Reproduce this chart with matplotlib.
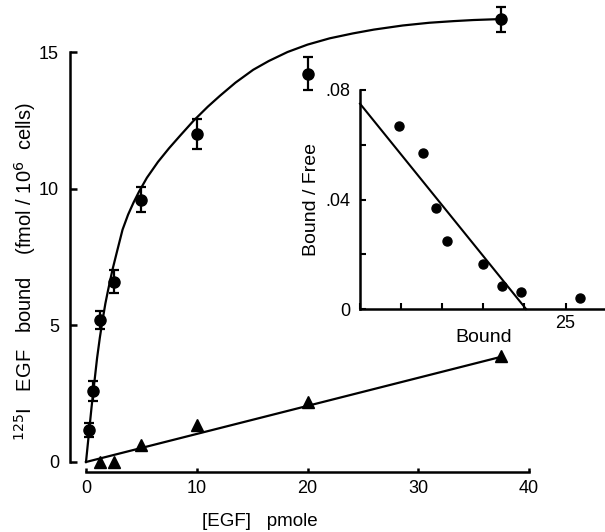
import matplotlib
matplotlib.use("Agg")
import matplotlib.pyplot as plt

plt.rcParams['font.family'] = ['Liberation Sans', 'DejaVu Sans']

# Main plot data: total binding (circles) with error bars
egf_circ = [0.3, 0.6, 1.25, 2.5, 5, 10, 20, 37.5]
bound_circ = [1.17, 2.6, 5.2, 6.6, 9.6, 12.0, 14.2, 16.2]
err_circ = [0.27, 0.36, 0.33, 0.43, 0.47, 0.55, 0.6, 0.45]

# Non-specific binding (triangles)
egf_tri = [1.25, 2.5, 5, 10, 20, 37.5]
bound_tri = [0.0, 0.0, 0.62, 1.35, 2.2, 3.87]
ns_line_x = [0, 37.5]
ns_line_y = [0, 3.85]

# Saturation curve
curve_x = [0, 0.25, 0.5, 0.75, 1.0, 1.25, 1.5, 1.75, 2.0, 2.4, 2.8, 3.3, 3.8,
           4.3, 4.8, 5.5, 6.5, 7.5, 8.5, 9.7, 11.0, 12.1, 13.5, 15.1, 16.5,
           18.2, 20.0, 22.0, 24.1, 26.0, 28.6, 31.0, 33.2, 35.0, 37.1]
curve_y = [0, 1.0, 2.0, 2.9, 3.8, 4.55, 5.2, 5.8, 6.3, 7.05, 7.7, 8.5, 9.05,
           9.5, 9.9, 10.4, 10.98, 11.48, 11.94, 12.48, 13.0, 13.4, 13.88,
           14.35, 14.67, 15.0, 15.27, 15.5, 15.68, 15.82, 15.97, 16.07,
           16.13, 16.17, 16.2]

# Scatchard inset
sc_bound = [4.75, 7.7, 9.3, 10.6, 15.0, 17.3, 19.6, 26.8]
sc_bf = [0.067, 0.057, 0.037, 0.0248, 0.0164, 0.0084, 0.0062, 0.004]
sc_line_x = [0, 20.2]
sc_line_y = [0.075, 0]

W, H = 605, 532
fig = plt.figure(figsize=(W / 100, H / 100), dpi=100)

# ---- main axes ----
x0, x1 = 86, 529          # pixel x of data 0 and 40
y0, y15 = 462, 52         # pixel y of data 0 and 15
ppu_y = (y0 - y15) / 15
ymax = 16.7
top_px = y0 - ymax * ppu_y
ax = fig.add_axes([x0 / W, (H - y0) / H, (x1 - x0) / W, (y0 - top_px) / H])
ax.set_xlim(0, 40)
ax.set_ylim(0, ymax)
ax.patch.set_alpha(0)

ax.plot(curve_x, curve_y, color='black', lw=1.6, clip_on=False,
        solid_joinstyle='round')
ax.plot(ns_line_x, ns_line_y, color='black', lw=1.6, clip_on=False)
ax.errorbar(egf_circ, bound_circ, yerr=err_circ, fmt='o', color='black',
            ms=8, capsize=3.5, elinewidth=1.6, capthick=1.6, clip_on=False)
ax.plot(egf_tri, bound_tri, '^', color='black', ms=8, clip_on=False)

for s in ['top', 'right']:
    ax.spines[s].set_visible(False)
ax.spines['left'].set_position(('outward', 11.5))
ax.spines['bottom'].set_position(('outward', 7.2))
ax.spines['left'].set_bounds(0, 15)
ax.spines['bottom'].set_bounds(0, 40)
ax.spines['left'].set_linewidth(1.8)
ax.spines['bottom'].set_linewidth(1.8)
ax.set_yticks([0, 5, 10, 15])
ax.set_xticks([0, 10, 20, 30, 40])
ax.tick_params(axis='y', direction='in', length=5, width=1.8, labelsize=13, pad=8)
ax.tick_params(axis='x', direction='in', length=3, width=1.8, labelsize=13, pad=6)

fig.text(25 / W, 1 - 272 / H,
         r'$^{125}$I   EGF   bound    (fmol / 10$^{6}$  cells)',
         rotation=90, ha='center', va='center', fontsize=14.5)
fig.text(260 / W, 1 - 521 / H, '[EGF]   pmole', ha='center', va='center',
         fontsize=13.5)

# ---- inset ----
ix0 = 360
ippx = 8.22
iy0, iy8 = 309, 90
ixmax = 30
axi = fig.add_axes([ix0 / W, (H - iy0) / H, ixmax * ippx / W, (iy0 - iy8) / H])
axi.set_xlim(0, ixmax)
axi.set_ylim(0, 0.08)
axi.patch.set_alpha(0)
axi.plot(sc_line_x, sc_line_y, color='black', lw=1.5, clip_on=False)
axi.plot(sc_bound, sc_bf, 'o', color='black', ms=6.5, clip_on=False)
for s in ['top', 'right']:
    axi.spines[s].set_visible(False)
axi.spines['left'].set_linewidth(1.8)
axi.spines['bottom'].set_linewidth(1.8)
axi.set_xticks([0, 5, 10, 15, 20, 25])
axi.set_xticklabels(['', '', '', '', '', '25'])
axi.set_yticks([0, 0.02, 0.04, 0.06, 0.08])
axi.set_yticklabels(['0', '', '.04', '', '.08'])
axi.tick_params(axis='both', direction='in', length=4, width=1.5, labelsize=13)
axi.tick_params(axis='y', pad=7)
axi.tick_params(axis='x', pad=4)
axi.set_xlabel('Bound', fontsize=14, labelpad=-2)
axi.set_ylabel('Bound / Free', fontsize=14, labelpad=4)

fig.savefig('out.png', dpi=100)
